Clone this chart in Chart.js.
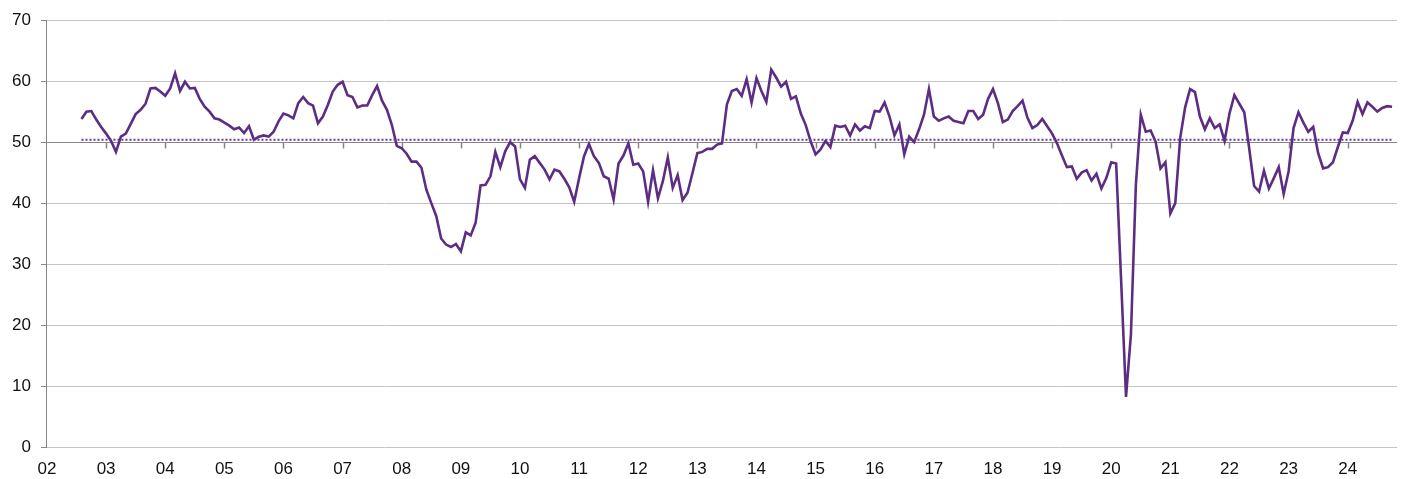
<!DOCTYPE html>
<html>
<head>
<meta charset="utf-8">
<script src="https://cdn.jsdelivr.net/npm/chart.js@4.4.1/dist/chart.umd.min.js"></script>
<style>
    html, body { margin: 0; padding: 0; background: #fff; }
    #wrap { width: 1403px; height: 479px; }
</style>
</head>
<body>
<div id="wrap"><canvas id="pmiChart" width="1403" height="479"></canvas></div>
<script>
// Monthly index, first reading Aug 2002 (months counted from Jan 2002)
const firstMonth = 7;
const indexValues = [
    53.8, 55.0, 55.1, 53.7, 52.5,                                     // 2002
    51.4, 50.2, 48.4, 50.9, 51.4, 53.0, 54.6, 55.3, 56.3, 58.8, 58.9, 58.3, // 2003
    57.6, 58.8, 61.3, 58.4, 59.9, 58.8, 58.9, 57.1, 55.8, 55.0, 53.9, 53.7, // 2004
    53.2, 52.7, 52.1, 52.4, 51.5, 52.6, 50.4, 50.9, 51.1, 50.9, 51.7, 53.4, // 2005
    54.7, 54.4, 53.9, 56.4, 57.4, 56.4, 56.0, 53.1, 54.2, 56.1, 58.3, 59.4, // 2006
    59.9, 57.7, 57.4, 55.7, 56.0, 56.0, 57.7, 59.2, 56.8, 55.3, 52.8, 49.4, // 2007
    49.0, 48.1, 46.8, 46.8, 45.8, 42.2, 40.0, 37.9, 34.2, 33.2, 32.8, 33.3, // 2008
    32.1, 35.2, 34.7, 36.8, 42.9, 43.0, 44.4, 48.4, 45.9, 48.5, 50.0, 49.3, // 2009
    43.9, 42.5, 47.1, 47.7, 46.6, 45.5, 43.9, 45.5, 45.2, 44.0, 42.6, 40.2, // 2010
    44.1, 47.7, 49.7, 47.7, 46.6, 44.4, 44.0, 40.6, 46.5, 47.8, 49.8, 46.3, // 2011
    46.5, 45.2, 40.2, 45.4, 40.8, 43.6, 47.5, 42.5, 44.6, 40.5, 41.7, 44.9, // 2012
    48.2, 48.4, 48.9, 48.9, 49.6, 49.8, 56.2, 58.4, 58.7, 57.6, 60.3, 56.5, // 2013
    60.5, 58.4, 56.6, 61.9, 60.6, 59.1, 59.9, 57.1, 57.5, 54.7, 52.8, 50.1, // 2014
    48.0, 48.8, 50.2, 49.2, 52.7, 52.5, 52.7, 51.1, 52.9, 51.9, 52.6, 52.3, // 2015
    55.1, 55.0, 56.5, 54.2, 51.1, 52.9, 48.0, 50.9, 50.0, 52.1, 54.5, 58.7, // 2016
    54.2, 53.5, 53.9, 54.2, 53.5, 53.3, 53.1, 55.1, 55.1, 53.8, 54.5, 57.1, // 2017
    58.7, 56.4, 53.3, 53.7, 55.1, 55.9, 56.8, 54.0, 52.3, 52.8, 53.8, 52.6, // 2018
    51.4, 49.8, 47.8, 45.9, 46.0, 44.0, 45.0, 45.4, 43.7, 44.8, 42.4, 44.1, // 2019
    46.7, 46.5, 27.5, 8.2, 18.5, 43.0, 54.5, 51.7, 51.9, 50.1, 45.7, 46.7,  // 2020
    38.3, 40.0, 50.7, 55.7, 58.7, 58.2, 54.2, 52.1, 53.9, 52.3, 52.9, 50.2, // 2021
    54.7, 57.7, 56.3, 54.9, 49.0, 42.8, 41.9, 45.3, 42.4, 44.1, 45.9, 41.5, // 2022
    45.2, 52.3, 54.9, 53.2, 51.7, 52.5, 48.2, 45.7, 45.9, 46.7, 49.2, 51.6, // 2023
    51.5, 53.5, 56.6, 54.6, 56.5, 55.8, 55.0, 55.6, 55.9, 55.8              // 2024
];
const averageLevel = 50.4;
const yearLabels = ['02', '03', '04', '05', '06', '07', '08', '09', '10', '11', '12',
    '13', '14', '15', '16', '17', '18', '19', '20', '21', '22', '23', '24'];
const axisCross = 50;

const purple = '#5c2d82';
const dotPurple = '#6b3a96';
const axisGrey = '#868686';
const gridGrey = '#c4c4c4';
const labelFont = { family: '"Liberation Sans", Arial, sans-serif', size: 17 };

const seriesPoints = indexValues.map((v, i) => ({ x: firstMonth + i, y: v }));
const averagePoints = indexValues.map((v, i) => ({ x: firstMonth + i, y: averageLevel }));

// Horizontal axis crosses at 50: draw its year tick marks there
const crossTicks = {
    id: 'crossTicks',
    beforeDatasetsDraw(chart) {
        const { ctx, scales: { x, y } } = chart;
        const yPix = Math.round(y.getPixelForValue(axisCross)) + 0.5;
        ctx.save();
        ctx.strokeStyle = axisGrey;
        ctx.lineWidth = 1.5;
        x.ticks.forEach((t, i) => {
            if (i === 0) return;
            const xp = Math.round(x.getPixelForValue(t.value)) + 0.5;
            ctx.beginPath();
            ctx.moveTo(xp, yPix);
            ctx.lineTo(xp, yPix + 6);
            ctx.stroke();
        });
        ctx.restore();
    }
};

const ctx = document.getElementById('pmiChart').getContext('2d');
new Chart(ctx, {
    type: 'line',
    data: {
        datasets: [
            {
                data: averagePoints,
                borderColor: dotPurple,
                borderWidth: 2,
                borderDash: [2, 2],
                pointRadius: 0
            },
            {
                data: seriesPoints,
                borderColor: purple,
                borderWidth: 2.6,
                pointRadius: 0,
                tension: 0
            }
        ]
    },
    options: {
        responsive: false,
        animation: false,
        devicePixelRatio: 1,
        layout: { padding: { top: 18, right: 6, left: 0, bottom: 0 } },
        plugins: {
            legend: { display: false },
            tooltip: { enabled: false }
        },
        scales: {
            x: {
                type: 'linear',
                min: -0.2,
                max: 274,
                afterBuildTicks: (scale) => {
                    scale.ticks = yearLabels.map((_, i) => ({ value: i * 12 }));
                },
                afterFit: (scale) => { scale.height = 32; },
                ticks: {
                    autoSkip: false,
                    maxRotation: 0,
                    padding: 12,
                    color: '#111',
                    font: labelFont,
                    callback: (value) => yearLabels[Math.round(value / 12)]
                },
                grid: { display: false, drawTicks: false },
                border: { display: false }
            },
            y: {
                min: 0,
                max: 70,
                afterFit: (scale) => { scale.width = 46; },
                ticks: {
                    stepSize: 10,
                    padding: 10,
                    color: '#111',
                    font: labelFont
                },
                grid: {
                    color: (c) => (c.tick && c.tick.value === axisCross ? axisGrey : gridGrey),
                    tickColor: axisGrey,
                    tickLength: 5,
                    lineWidth: 1
                },
                border: { color: axisGrey }
            }
        }
    },
    plugins: [crossTicks]
});
</script>
</body>
</html>
